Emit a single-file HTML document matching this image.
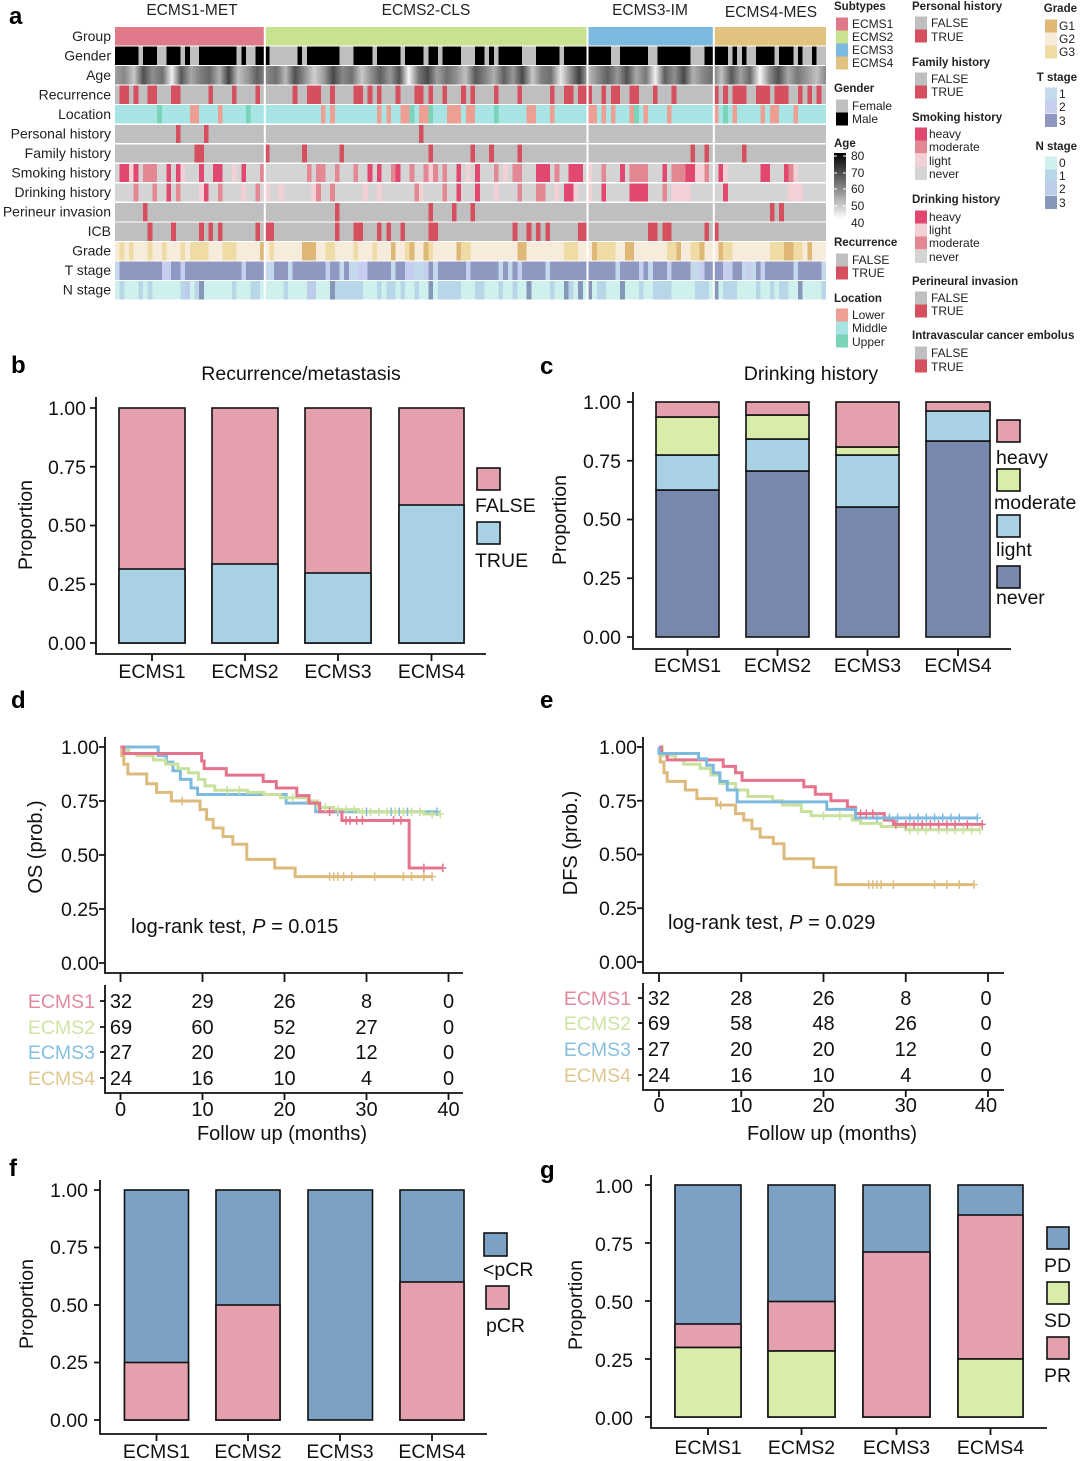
<!DOCTYPE html>
<html>
<head>
<meta charset="utf-8">
<style>
html,body{margin:0;padding:0;background:#fff;}
svg{display:block;font-family:"Liberation Sans",Arial,sans-serif;}
.lt{font-size:14px;fill:#222;}
.lg{font-size:12px;fill:#222;}
.lh{font-size:11.5px;font-weight:bold;fill:#222;}
.ax{font-size:19.5px;fill:#111;}
.pl{font-size:24px;font-weight:bold;fill:#000;}
.bar rect{stroke:#111;stroke-width:1.6;}
</style>
</head>
<body>
<svg width="1080" height="1461" viewBox="0 0 1080 1461" xmlns="http://www.w3.org/2000/svg">
<defs>
<linearGradient id="ageGrad" x1="0" y1="0" x2="1" y2="0">
<stop offset="0%" stop-color="#a0a0a0"/><stop offset="1.3%" stop-color="#888"/><stop offset="2.7%" stop-color="#c8c8c8"/><stop offset="4%" stop-color="#505050"/><stop offset="5.3%" stop-color="#909090"/><stop offset="6.7%" stop-color="#707070"/><stop offset="8%" stop-color="#f0f0f0"/><stop offset="9.3%" stop-color="#585858"/><stop offset="10.7%" stop-color="#a8a8a8"/><stop offset="12%" stop-color="#808080"/><stop offset="13.3%" stop-color="#686868"/><stop offset="14.7%" stop-color="#b0b0b0"/><stop offset="16%" stop-color="#404040"/><stop offset="17.3%" stop-color="#c0c0c0"/><stop offset="18.7%" stop-color="#989898"/><stop offset="20%" stop-color="#606060"/><stop offset="21.3%" stop-color="#888"/><stop offset="22.7%" stop-color="#707070"/><stop offset="24%" stop-color="#b8b8b8"/><stop offset="25.3%" stop-color="#505050"/><stop offset="26.7%" stop-color="#909090"/><stop offset="28%" stop-color="#d0d0d0"/><stop offset="29.3%" stop-color="#a0a0a0"/><stop offset="30.7%" stop-color="#484848"/><stop offset="32%" stop-color="#888"/><stop offset="33.3%" stop-color="#707070"/><stop offset="34.7%" stop-color="#c8c8c8"/><stop offset="36%" stop-color="#909090"/><stop offset="37.3%" stop-color="#606060"/><stop offset="38.7%" stop-color="#989898"/><stop offset="40%" stop-color="#505050"/><stop offset="41.3%" stop-color="#f8f8f8"/><stop offset="42.7%" stop-color="#787878"/><stop offset="44%" stop-color="#484848"/><stop offset="45.3%" stop-color="#a0a0a0"/><stop offset="46.7%" stop-color="#707070"/><stop offset="48%" stop-color="#909090"/><stop offset="49.3%" stop-color="#c0c0c0"/><stop offset="50.7%" stop-color="#585858"/><stop offset="52%" stop-color="#808080"/><stop offset="53.3%" stop-color="#b0b0b0"/><stop offset="54.7%" stop-color="#606060"/><stop offset="56%" stop-color="#989898"/><stop offset="57.3%" stop-color="#484848"/><stop offset="58.7%" stop-color="#c8c8c8"/><stop offset="60%" stop-color="#808080"/><stop offset="61.3%" stop-color="#707070"/><stop offset="62.7%" stop-color="#e8e8e8"/><stop offset="64%" stop-color="#909090"/><stop offset="65.3%" stop-color="#404040"/><stop offset="66.7%" stop-color="#b8b8b8"/><stop offset="68%" stop-color="#888"/><stop offset="69.3%" stop-color="#606060"/><stop offset="70.7%" stop-color="#989898"/><stop offset="72%" stop-color="#505050"/><stop offset="73.3%" stop-color="#a8a8a8"/><stop offset="74.7%" stop-color="#787878"/><stop offset="76%" stop-color="#f0f0f0"/><stop offset="77.3%" stop-color="#606060"/><stop offset="78.7%" stop-color="#909090"/><stop offset="80%" stop-color="#484848"/><stop offset="81.3%" stop-color="#b0b0b0"/><stop offset="82.7%" stop-color="#888"/><stop offset="84%" stop-color="#707070"/><stop offset="85.3%" stop-color="#c0c0c0"/><stop offset="86.7%" stop-color="#585858"/><stop offset="88%" stop-color="#a0a0a0"/><stop offset="89.3%" stop-color="#686868"/><stop offset="90.7%" stop-color="#f8f8f8"/><stop offset="92%" stop-color="#909090"/><stop offset="93.3%" stop-color="#505050"/><stop offset="94.7%" stop-color="#a8a8a8"/><stop offset="96%" stop-color="#787878"/><stop offset="97.3%" stop-color="#989898"/><stop offset="98.7%" stop-color="#c0c0c0"/><stop offset="100%" stop-color="#888"/>
</linearGradient>
<linearGradient id="ageLeg" x1="0" y1="0" x2="0" y2="1">
<stop offset="0%" stop-color="#000"/><stop offset="100%" stop-color="#fff"/>
</linearGradient>
<path id="cp" d="M0,-0.02V0.02M-0.45,0H0.45" vector-effect="non-scaling-stroke" stroke-width="1.5" fill="none"/>
</defs>

<!-- ============ PANEL A: heatmap ============ -->
<text class="pl" x="9" y="24">a</text>
<text x="192" y="15" font-size="15.5" text-anchor="middle" fill="#222">ECMS1-MET</text>
<text x="426" y="15" font-size="15.5" text-anchor="middle" fill="#222">ECMS2-CLS</text>
<text x="650" y="15" font-size="15.5" text-anchor="middle" fill="#222">ECMS3-IM</text>
<text x="771" y="17" font-size="15.5" text-anchor="middle" fill="#222">ECMS4-MES</text>

<g class="lt" text-anchor="end">
<text x="111" y="41">Group</text>
<text x="111" y="60.5">Gender</text>
<text x="111" y="80">Age</text>
<text x="111" y="99.5">Recurrence</text>
<text x="111" y="119">Location</text>
<text x="111" y="138.5">Personal history</text>
<text x="111" y="158">Family history</text>
<text x="111" y="177.5">Smoking history</text>
<text x="111" y="197">Drinking history</text>
<text x="111" y="216.5">Perineur invasion</text>
<text x="111" y="236">ICB</text>
<text x="111" y="255.5">Grade</text>
<text x="111" y="275">T stage</text>
<text x="111" y="294.5">N stage</text>
</g>

<g transform="translate(115,0) scale(4.6776,1)" shape-rendering="crispEdges">
<!-- Group -->
<g transform="translate(0,27)">
<rect x="0" width="32" height="18.3" fill="#E07A8A"/>
<rect x="32" width="69" height="18.3" fill="#C7E38F"/>
<rect x="101" width="27" height="18.3" fill="#7CB9DE"/>
<rect x="128" width="24" height="18.3" fill="#E2C27F"/>
</g>
<!-- Gender -->
<g transform="translate(0,46.55)">
<rect x="0" width="152" height="18.3" fill="#BFBFBF"/>
<g fill="#000">
<rect x="0" width="5" height="18.3"/><rect x="6" width="3" height="18.3"/><rect x="11" width="3" height="18.3"/><rect x="15" width="1" height="18.3"/><rect x="18" width="8" height="18.3"/><rect x="27" width="1" height="18.3"/><rect x="30" width="3" height="18.3"/><rect x="39" width="1" height="18.3"/><rect x="41" width="7" height="18.3"/><rect x="51" width="4" height="18.3"/><rect x="56" width="5" height="18.3"/><rect x="62" width="4" height="18.3"/><rect x="67" width="2" height="18.3"/><rect x="70" width="4" height="18.3"/><rect x="77" width="2" height="18.3"/><rect x="80" width="1" height="18.3"/><rect x="82" width="5" height="18.3"/><rect x="90" width="5" height="18.3"/><rect x="96" width="10" height="18.3"/><rect x="108" width="6" height="18.3"/><rect x="116" width="7" height="18.3"/><rect x="126" width="5" height="18.3"/><rect x="132" width="1" height="18.3"/><rect x="134" width="1" height="18.3"/><rect x="137" width="4" height="18.3"/><rect x="142" width="3" height="18.3"/><rect x="146" width="1" height="18.3"/><rect x="149" width="1" height="18.3"/>
</g></g>
<!-- Age -->
<g transform="translate(0,66.1)">
<rect x="0" width="152" height="18.3" fill="url(#ageGrad)"/>
</g>
<!-- Recurrence -->
<g transform="translate(0,85.65)">
<rect x="0" width="152" height="18.3" fill="#BFBFBF"/>
<g fill="#D64F5E">
<rect x="1" width="2" height="18.3"/><rect x="4" width="1" height="18.3"/><rect x="7" width="2" height="18.3"/><rect x="12" width="2" height="18.3"/><rect x="20" width="1" height="18.3"/><rect x="25" width="1" height="18.3"/><rect x="30" width="1" height="18.3"/><rect x="38" width="1" height="18.3"/><rect x="41" width="3" height="18.3"/><rect x="46" width="1" height="18.3"/><rect x="51" width="2" height="18.3"/><rect x="54" width="1" height="18.3"/><rect x="56" width="1" height="18.3"/><rect x="60" width="1" height="18.3"/><rect x="64" width="2" height="18.3"/><rect x="67" width="1" height="18.3"/><rect x="70" width="1" height="18.3"/><rect x="74" width="1" height="18.3"/><rect x="76" width="1" height="18.3"/><rect x="81" width="1" height="18.3"/><rect x="86" width="1" height="18.3"/><rect x="93" width="1" height="18.3"/><rect x="96" width="2" height="18.3"/><rect x="99" width="3" height="18.3"/><rect x="104" width="1" height="18.3"/><rect x="106" width="2" height="18.3"/><rect x="110" width="2" height="18.3"/><rect x="115" width="1" height="18.3"/><rect x="119" width="1" height="18.3"/><rect x="128" width="1" height="18.3"/><rect x="130" width="1" height="18.3"/><rect x="132" width="3" height="18.3"/><rect x="137" width="3" height="18.3"/><rect x="141" width="3" height="18.3"/><rect x="146" width="1" height="18.3"/><rect x="148" width="1" height="18.3"/><rect x="150" width="1" height="18.3"/>
</g></g>
<!-- Location -->
<g transform="translate(0,105.2)">
<rect x="0" width="152" height="18.3" fill="#A8E4E4"/>
<g fill="#EE9F94">
<rect x="16" width="2" height="18.3"/><rect x="22" width="1" height="18.3"/><rect x="44" width="1" height="18.3"/><rect x="46" width="1" height="18.3"/><rect x="56" width="1" height="18.3"/><rect x="58" width="1" height="18.3"/><rect x="61" width="2" height="18.3"/><rect x="65" width="2" height="18.3"/><rect x="71" width="3" height="18.3"/><rect x="75" width="2" height="18.3"/><rect x="88" width="2" height="18.3"/><rect x="93" width="1" height="18.3"/><rect x="101" width="2" height="18.3"/><rect x="104" width="1" height="18.3"/><rect x="106" width="1" height="18.3"/><rect x="110" width="1" height="18.3"/><rect x="113" width="1" height="18.3"/><rect x="118" width="1" height="18.3"/><rect x="128" width="1" height="18.3"/><rect x="132" width="1" height="18.3"/><rect x="138" width="1" height="18.3"/><rect x="140" width="2" height="18.3"/><rect x="145" width="1" height="18.3"/>
</g>
<g fill="#7AD4B8">
<rect x="9" width="1" height="18.3"/><rect x="28" width="1" height="18.3"/><rect x="63" width="1" height="18.3"/><rect x="67" width="1" height="18.3"/><rect x="81" width="1" height="18.3"/><rect x="111" width="1" height="18.3"/><rect x="130" width="1" height="18.3"/>
</g></g>
<!-- Personal history -->
<g transform="translate(0,124.75)">
<rect x="0" width="152" height="18.3" fill="#BFBFBF"/>
<g fill="#D64F5E"><rect x="13" width="1" height="18.3"/><rect x="19" width="1" height="18.3"/><rect x="65" width="1" height="18.3"/></g>
</g>
<!-- Family history -->
<g transform="translate(0,144.3)">
<rect x="0" width="152" height="18.3" fill="#BFBFBF"/>
<g fill="#D64F5E"><rect x="17" width="2" height="18.3"/><rect x="32" width="1" height="18.3"/><rect x="40" width="1" height="18.3"/><rect x="48" width="1" height="18.3"/><rect x="67" width="1" height="18.3"/><rect x="76" width="1" height="18.3"/><rect x="80" width="1" height="18.3"/><rect x="86" width="1" height="18.3"/><rect x="123" width="1" height="18.3"/><rect x="126" width="1" height="18.3"/><rect x="134" width="1" height="18.3"/></g>
</g>
<!-- Smoking -->
<g transform="translate(0,163.85)">
<rect x="0" width="152" height="18.3" fill="#D4D4D4"/>
<g fill="#E2476F">
<rect x="1" width="2" height="18.3"/><rect x="4" width="1" height="18.3"/><rect x="11" width="1" height="18.3"/><rect x="13" width="1" height="18.3"/><rect x="18" width="1" height="18.3"/><rect x="21" width="2" height="18.3"/><rect x="27" width="1" height="18.3"/><rect x="54" width="1" height="18.3"/><rect x="56" width="1" height="18.3"/><rect x="60" width="1" height="18.3"/><rect x="73" width="1" height="18.3"/><rect x="77" width="1" height="18.3"/><rect x="90" width="3" height="18.3"/><rect x="97" width="3" height="18.3"/><rect x="108" width="1" height="18.3"/><rect x="117" width="1" height="18.3"/><rect x="122" width="2" height="18.3"/><rect x="129" width="1" height="18.3"/><rect x="138" width="2" height="18.3"/><rect x="143" width="1" height="18.3"/>
</g>
<g fill="#E38892">
<rect x="6" width="3" height="18.3"/><rect x="31" width="1" height="18.3"/><rect x="41" width="1" height="18.3"/><rect x="43" width="2" height="18.3"/><rect x="47" width="1" height="18.3"/><rect x="51" width="1" height="18.3"/><rect x="59" width="1" height="18.3"/><rect x="63" width="1" height="18.3"/><rect x="66" width="1" height="18.3"/><rect x="68" width="1" height="18.3"/><rect x="70" width="1" height="18.3"/><rect x="81" width="1" height="18.3"/><rect x="85" width="2" height="18.3"/><rect x="94" width="1" height="18.3"/><rect x="104" width="1" height="18.3"/><rect x="110" width="4" height="18.3"/><rect x="119" width="3" height="18.3"/><rect x="126" width="1" height="18.3"/><rect x="144" width="1" height="18.3"/>
</g>
<g fill="#F3D0D6">
<rect x="3" width="1" height="18.3"/><rect x="14" width="1" height="18.3"/><rect x="25" width="1" height="18.3"/><rect x="67" width="1" height="18.3"/><rect x="75" width="1" height="18.3"/><rect x="83" width="1" height="18.3"/><rect x="101" width="1" height="18.3"/><rect x="124" width="2" height="18.3"/><rect x="130" width="1" height="18.3"/><rect x="145" width="1" height="18.3"/>
</g></g>
<!-- Drinking -->
<g transform="translate(0,183.4)">
<rect x="0" width="152" height="18.3" fill="#D4D4D4"/>
<g fill="#E2476F">
<rect x="11" width="1" height="18.3"/><rect x="19" width="1" height="18.3"/><rect x="73" width="1" height="18.3"/><rect x="77" width="1" height="18.3"/><rect x="96" width="2" height="18.3"/><rect x="104" width="1" height="18.3"/><rect x="110" width="4" height="18.3"/><rect x="130" width="1" height="18.3"/>
</g>
<g fill="#E38892">
<rect x="4" width="1" height="18.3"/><rect x="8" width="1" height="18.3"/><rect x="13" width="1" height="18.3"/><rect x="22" width="1" height="18.3"/><rect x="30" width="1" height="18.3"/><rect x="43" width="1" height="18.3"/><rect x="46" width="1" height="18.3"/><rect x="64" width="1" height="18.3"/><rect x="70" width="1" height="18.3"/><rect x="86" width="1" height="18.3"/><rect x="90" width="2" height="18.3"/><rect x="117" width="1" height="18.3"/>
</g>
<g fill="#F3D0D6">
<rect x="18" width="1" height="18.3"/><rect x="27" width="1" height="18.3"/><rect x="32" width="1" height="18.3"/><rect x="35" width="1" height="18.3"/><rect x="42" width="1" height="18.3"/><rect x="53" width="1" height="18.3"/><rect x="56" width="1" height="18.3"/><rect x="65" width="1" height="18.3"/><rect x="81" width="1" height="18.3"/><rect x="94" width="1" height="18.3"/><rect x="98" width="1" height="18.3"/><rect x="101" width="1" height="18.3"/><rect x="119" width="4" height="18.3"/><rect x="144" width="3" height="18.3"/>
</g></g>
<!-- Perineur invasion -->
<g transform="translate(0,202.95)">
<rect x="0" width="152" height="18.3" fill="#BFBFBF"/>
<g fill="#D64F5E"><rect x="6" width="1" height="18.3"/><rect x="47" width="1" height="18.3"/><rect x="67" width="1" height="18.3"/><rect x="72" width="1" height="18.3"/><rect x="76" width="1" height="18.3"/><rect x="140" width="1" height="18.3"/><rect x="142" width="1" height="18.3"/></g>
</g>
<!-- ICB -->
<g transform="translate(0,222.5)">
<rect x="0" width="152" height="18.3" fill="#BFBFBF"/>
<g fill="#D64F5E"><rect x="7" width="1" height="18.3"/><rect x="12" width="1" height="18.3"/><rect x="18" width="1" height="18.3"/><rect x="20" width="1" height="18.3"/><rect x="22" width="1" height="18.3"/><rect x="30" width="1" height="18.3"/><rect x="32" width="2" height="18.3"/><rect x="47" width="1" height="18.3"/><rect x="51" width="2" height="18.3"/><rect x="56" width="1" height="18.3"/><rect x="58" width="1" height="18.3"/><rect x="61" width="1" height="18.3"/><rect x="67" width="2" height="18.3"/><rect x="85" width="1" height="18.3"/><rect x="88" width="1" height="18.3"/><rect x="90" width="1" height="18.3"/><rect x="92" width="1" height="18.3"/><rect x="99" width="2" height="18.3"/><rect x="114" width="2" height="18.3"/><rect x="117" width="2" height="18.3"/><rect x="126" width="1" height="18.3"/><rect x="128" width="1" height="18.3"/></g>
</g>
<!-- Grade -->
<g transform="translate(0,242.05)">
<rect x="0" width="152" height="18.3" fill="#F7EBDC"/>
<g fill="#EFDCA4">
<rect x="1" width="1" height="18.3"/><rect x="3" width="1" height="18.3"/><rect x="7" width="1" height="18.3"/><rect x="10" width="1" height="18.3"/><rect x="14" width="1" height="18.3"/><rect x="16" width="4" height="18.3"/><rect x="23" width="3" height="18.3"/><rect x="33" width="1" height="18.3"/><rect x="45" width="2" height="18.3"/><rect x="51" width="1" height="18.3"/><rect x="55" width="1" height="18.3"/><rect x="62" width="1" height="18.3"/><rect x="67" width="1" height="18.3"/><rect x="74" width="2" height="18.3"/><rect x="96" width="3" height="18.3"/><rect x="103" width="4" height="18.3"/><rect x="118" width="2" height="18.3"/><rect x="123" width="2" height="18.3"/><rect x="130" width="2" height="18.3"/><rect x="140" width="3" height="18.3"/><rect x="145" width="2" height="18.3"/>
</g>
<g fill="#DEB874">
<rect x="31" width="1" height="18.3"/><rect x="40" width="3" height="18.3"/><rect x="59" width="1" height="18.3"/><rect x="63" width="1" height="18.3"/><rect x="66" width="1" height="18.3"/><rect x="73" width="1" height="18.3"/><rect x="86" width="2" height="18.3"/><rect x="102" width="1" height="18.3"/><rect x="109" width="2" height="18.3"/><rect x="120" width="1" height="18.3"/><rect x="125" width="1" height="18.3"/><rect x="129" width="1" height="18.3"/><rect x="143" width="2" height="18.3"/><rect x="148" width="1" height="18.3"/>
</g></g>
<!-- T stage -->
<g transform="translate(0,261.6)">
<rect x="0" width="152" height="18.3" fill="#8F98C1"/>
<g fill="#C4D9EC">
<rect x="0" width="1" height="18.3"/><rect x="32" width="2" height="18.3"/><rect x="37" width="1" height="18.3"/><rect x="48" width="1" height="18.3"/><rect x="50" width="2" height="18.3"/><rect x="59" width="1" height="18.3"/><rect x="64" width="2" height="18.3"/><rect x="68" width="1" height="18.3"/><rect x="82" width="1" height="18.3"/><rect x="84" width="1" height="18.3"/><rect x="92" width="1" height="18.3"/><rect x="107" width="1" height="18.3"/><rect x="114" width="1" height="18.3"/><rect x="123" width="2" height="18.3"/><rect x="134" width="1" height="18.3"/><rect x="136" width="1" height="18.3"/><rect x="145" width="1" height="18.3"/><rect x="151" width="1" height="18.3"/>
</g>
<g fill="#C6CFEF">
<rect x="10" width="2" height="18.3"/><rect x="14" width="1" height="18.3"/><rect x="27" width="1" height="18.3"/><rect x="45" width="1" height="18.3"/><rect x="52" width="2" height="18.3"/><rect x="62" width="2" height="18.3"/><rect x="66" width="1" height="18.3"/><rect x="75" width="1" height="18.3"/><rect x="86" width="1" height="18.3"/><rect x="112" width="1" height="18.3"/><rect x="118" width="1" height="18.3"/><rect x="125" width="1" height="18.3"/><rect x="130" width="2" height="18.3"/><rect x="135" width="1" height="18.3"/><rect x="138" width="1" height="18.3"/>
</g></g>
<!-- N stage -->
<g transform="translate(0,281.15)">
<rect x="0" width="152" height="18.3" fill="#CFF1EE"/>
<g fill="#B8D6E7">
<rect x="1" width="1" height="18.3"/><rect x="5" width="1" height="18.3"/><rect x="7" width="1" height="18.3"/><rect x="14" width="1" height="18.3"/><rect x="17" width="1" height="18.3"/><rect x="25" width="1" height="18.3"/><rect x="29" width="2" height="18.3"/><rect x="36" width="1" height="18.3"/><rect x="47" width="6" height="18.3"/><rect x="56" width="1" height="18.3"/><rect x="58" width="2" height="18.3"/><rect x="61" width="1" height="18.3"/><rect x="64" width="1" height="18.3"/><rect x="69" width="5" height="18.3"/><rect x="77" width="2" height="18.3"/><rect x="82" width="1" height="18.3"/><rect x="85" width="1" height="18.3"/><rect x="93" width="1" height="18.3"/><rect x="97" width="1" height="18.3"/><rect x="103" width="2" height="18.3"/><rect x="112" width="1" height="18.3"/><rect x="115" width="4" height="18.3"/><rect x="124" width="3" height="18.3"/><rect x="130" width="3" height="18.3"/><rect x="137" width="1" height="18.3"/><rect x="140" width="1" height="18.3"/><rect x="142" width="2" height="18.3"/><rect x="151" width="1" height="18.3"/>
</g>
<g fill="#BECCEB"><rect x="15" width="1" height="18.3"/><rect x="41" width="2" height="18.3"/></g>
<g fill="#8797BA">
<rect x="18" width="1" height="18.3"/><rect x="46" width="1" height="18.3"/><rect x="67" width="1" height="18.3"/><rect x="88" width="1" height="18.3"/><rect x="96" width="1" height="18.3"/><rect x="99" width="1" height="18.3"/><rect x="101" width="1" height="18.3"/><rect x="108" width="1" height="18.3"/><rect x="128" width="1" height="18.3"/><rect x="146" width="1" height="18.3"/>
</g></g>
</g>
<!-- group separators -->
<g fill="#fff">
<rect x="263.8" y="26" width="2" height="276"/>
<rect x="586.5" y="26" width="2" height="276"/>
<rect x="712.8" y="26" width="2" height="276"/>
</g>

<!-- Legend col 1 -->
<g class="lh">
<text x="834" y="10">Subtypes</text>
<text x="834" y="92">Gender</text>
<text x="834" y="147">Age</text>
<text x="834" y="246">Recurrence</text>
<text x="834" y="302">Location</text>
</g>
<g>
<rect x="836" y="17.5" width="12" height="13" fill="#E07A8A"/>
<rect x="836" y="30.5" width="12" height="13" fill="#C7E38F"/>
<rect x="836" y="43.5" width="12" height="13" fill="#7CB9DE"/>
<rect x="836" y="56.5" width="12" height="13" fill="#E2C27F"/>
<rect x="836" y="99.5" width="12" height="13" fill="#BFBFBF"/>
<rect x="836" y="112.5" width="12" height="13" fill="#000"/>
<rect x="834" y="153" width="12" height="66" fill="url(#ageLeg)"/>
<g stroke="#fff" stroke-width="1"><path d="M834,156H837M843,156H846M834,173H837M843,173H846M834,189H837M843,189H846M834,206H837M843,206H846"/></g>
<rect x="836" y="253.5" width="12" height="13" fill="#BFBFBF"/>
<rect x="836" y="266.5" width="12" height="13" fill="#D64F5E"/>
<rect x="836" y="308.5" width="12" height="13" fill="#EE9F94"/>
<rect x="836" y="321.5" width="12" height="13" fill="#A8E4E4"/>
<rect x="836" y="334.5" width="12" height="13" fill="#7AD4B8"/>
</g>
<g class="lg">
<text x="852" y="28">ECMS1</text>
<text x="852" y="41">ECMS2</text>
<text x="852" y="54">ECMS3</text>
<text x="852" y="67">ECMS4</text>
<text x="852" y="110">Female</text>
<text x="852" y="123">Male</text>
<text x="851" y="160">80</text>
<text x="851" y="177">70</text>
<text x="851" y="193">60</text>
<text x="851" y="210">50</text>
<text x="851" y="227">40</text>
<text x="852" y="264">FALSE</text>
<text x="852" y="277">TRUE</text>
<text x="852" y="319">Lower</text>
<text x="852" y="332">Middle</text>
<text x="852" y="346">Upper</text>
</g>

<!-- Legend col 2 -->
<g class="lh">
<text x="912" y="10">Personal history</text>
<text x="912" y="66">Family history</text>
<text x="912" y="121">Smoking history</text>
<text x="912" y="203">Drinking history</text>
<text x="912" y="285">Perineural invasion</text>
<text x="912" y="339">Intravascular cancer embolus</text>
</g>
<g>
<rect x="915" y="16.5" width="12" height="13" fill="#BFBFBF"/>
<rect x="915" y="29.5" width="12" height="13" fill="#D64F5E"/>
<rect x="915" y="72.5" width="12" height="13" fill="#BFBFBF"/>
<rect x="915" y="85.5" width="12" height="13" fill="#D64F5E"/>
<rect x="915" y="127.5" width="12" height="13" fill="#E2476F"/>
<rect x="915" y="140.5" width="12" height="13" fill="#E38892"/>
<rect x="915" y="154" width="12" height="13" fill="#F3D0D6"/>
<rect x="915" y="167" width="12" height="13" fill="#D4D4D4"/>
<rect x="915" y="210.5" width="12" height="13" fill="#E2476F"/>
<rect x="915" y="223.5" width="12" height="13" fill="#F3D0D6"/>
<rect x="915" y="236.5" width="12" height="13" fill="#E38892"/>
<rect x="915" y="250" width="12" height="13" fill="#D4D4D4"/>
<rect x="915" y="291.5" width="12" height="13" fill="#BFBFBF"/>
<rect x="915" y="304.5" width="12" height="13" fill="#D64F5E"/>
<rect x="915" y="346.5" width="12" height="13" fill="#BFBFBF"/>
<rect x="915" y="359.5" width="12" height="13" fill="#D64F5E"/>
</g>
<g class="lg">
<text x="931" y="27">FALSE</text>
<text x="931" y="41">TRUE</text>
<text x="931" y="83">FALSE</text>
<text x="931" y="96">TRUE</text>
<text x="929" y="138">heavy</text>
<text x="929" y="151">moderate</text>
<text x="929" y="165">light</text>
<text x="929" y="178">never</text>
<text x="929" y="221">heavy</text>
<text x="929" y="234">light</text>
<text x="929" y="247">moderate</text>
<text x="929" y="261">never</text>
<text x="931" y="302">FALSE</text>
<text x="931" y="315">TRUE</text>
<text x="931" y="357">FALSE</text>
<text x="931" y="371">TRUE</text>
</g>

<!-- Legend col 3 -->
<g class="lh" text-anchor="end">
<text x="1077" y="12">Grade</text>
<text x="1077" y="81">T stage</text>
<text x="1077" y="150">N stage</text>
</g>
<g>
<rect x="1045" y="19.5" width="12" height="13" fill="#DEB874"/>
<rect x="1045" y="32.5" width="12" height="13" fill="#F7EBDC"/>
<rect x="1045" y="45.5" width="12" height="13" fill="#EFDCA4"/>
<rect x="1045" y="87.5" width="12" height="13" fill="#C4D9EC"/>
<rect x="1045" y="100.5" width="12" height="13" fill="#C6CFEF"/>
<rect x="1045" y="114" width="12" height="13" fill="#8F98C1"/>
<rect x="1045" y="156.5" width="12" height="13" fill="#CFF1EE"/>
<rect x="1045" y="169.5" width="12" height="13" fill="#B8D6E7"/>
<rect x="1045" y="182.5" width="12" height="13" fill="#BECCEB"/>
<rect x="1045" y="196" width="12" height="13" fill="#8797BA"/>
</g>
<g class="lg">
<text x="1059" y="30">G1</text>
<text x="1059" y="43">G2</text>
<text x="1059" y="56">G3</text>
<text x="1059" y="98">1</text>
<text x="1059" y="111">2</text>
<text x="1059" y="125">3</text>
<text x="1059" y="167">0</text>
<text x="1059" y="180">1</text>
<text x="1059" y="193">2</text>
<text x="1059" y="207">3</text>
</g>

<!-- ============ PANEL B ============ -->
<text class="pl" x="11" y="373">b</text>
<text x="301" y="380" font-size="19.5" text-anchor="middle" fill="#111">Recurrence/metastasis</text>
<text class="ax" transform="translate(32,525) rotate(-90)" text-anchor="middle">Proportion</text>
<g class="bar">
<rect x="119" y="408" width="66" height="235" fill="#E5A0AD"/>
<rect x="119" y="569" width="66" height="74" fill="#A9D1E6"/>
<rect x="212" y="408" width="66" height="235" fill="#E5A0AD"/>
<rect x="212" y="564" width="66" height="79" fill="#A9D1E6"/>
<rect x="305" y="408" width="66" height="235" fill="#E5A0AD"/>
<rect x="305" y="573" width="66" height="70" fill="#A9D1E6"/>
<rect x="399" y="408" width="65" height="235" fill="#E5A0AD"/>
<rect x="399" y="505" width="65" height="138" fill="#A9D1E6"/>
<rect x="477" y="468" width="23" height="22" fill="#E5A0AD"/>
<rect x="477" y="522" width="23" height="22" fill="#A9D1E6"/>
</g>
<g stroke="#111" stroke-width="1.8" fill="none">
<path d="M96,397V654H486"/>
<path d="M90,408H96M90,466.75H96M90,525.5H96M90,584.25H96M90,643H96"/>
<path d="M152,654V661M245,654V661M338,654V661M431.5,654V661"/>
</g>
<g class="ax" text-anchor="end">
<text x="86" y="415">1.00</text>
<text x="86" y="474">0.75</text>
<text x="86" y="532">0.50</text>
<text x="86" y="591">0.25</text>
<text x="86" y="650">0.00</text>
</g>
<g class="ax" text-anchor="middle">
<text x="152" y="678">ECMS1</text>
<text x="245" y="678">ECMS2</text>
<text x="338" y="678">ECMS3</text>
<text x="431.5" y="678">ECMS4</text>
</g>
<g class="ax">
<text x="475" y="512">FALSE</text>
<text x="475" y="567">TRUE</text>
</g>

<!-- ============ PANEL C ============ -->
<text class="pl" x="540" y="374">c</text>
<text x="811" y="380" font-size="19.5" text-anchor="middle" fill="#111">Drinking history</text>
<text class="ax" transform="translate(566,520) rotate(-90)" text-anchor="middle">Proportion</text>
<g class="bar">
<!-- ECMS1 -->
<rect x="656" y="490" width="63" height="147" fill="#7788AC"/>
<rect x="656" y="455" width="63" height="35" fill="#A9D1E6"/>
<rect x="656" y="417" width="63" height="38" fill="#D9EDAB"/>
<rect x="656" y="402" width="63" height="15" fill="#E5A0AD"/>
<!-- ECMS2 -->
<rect x="746" y="471" width="63" height="166" fill="#7788AC"/>
<rect x="746" y="439" width="63" height="32" fill="#A9D1E6"/>
<rect x="746" y="415" width="63" height="24" fill="#D9EDAB"/>
<rect x="746" y="402" width="63" height="13" fill="#E5A0AD"/>
<!-- ECMS3 -->
<rect x="836" y="507" width="63" height="130" fill="#7788AC"/>
<rect x="836" y="455" width="63" height="52" fill="#A9D1E6"/>
<rect x="836" y="447" width="63" height="8" fill="#D9EDAB"/>
<rect x="836" y="402" width="63" height="45" fill="#E5A0AD"/>
<!-- ECMS4 -->
<rect x="926" y="441" width="64" height="196" fill="#7788AC"/>
<rect x="926" y="411" width="64" height="30" fill="#A9D1E6"/>
<rect x="926" y="402" width="64" height="9" fill="#E5A0AD"/>
<!-- legend -->
<rect x="997" y="420" width="23" height="22" fill="#E5A0AD"/>
<rect x="997" y="469" width="23" height="22" fill="#D9EDAB"/>
<rect x="997" y="515" width="23" height="22" fill="#A9D1E6"/>
<rect x="997" y="566" width="23" height="22" fill="#7788AC"/>
</g>
<g stroke="#111" stroke-width="1.8" fill="none">
<path d="M633,392V649H1011"/>
<path d="M627,402H633M627,460.75H633M627,519.5H633M627,578.25H633M627,637H633"/>
<path d="M687.5,649V656M777.5,649V656M867.5,649V656M958,649V656"/>
</g>
<g class="ax" text-anchor="end">
<text x="621" y="409">1.00</text>
<text x="621" y="468">0.75</text>
<text x="621" y="526">0.50</text>
<text x="621" y="585">0.25</text>
<text x="621" y="644">0.00</text>
</g>
<g class="ax" text-anchor="middle">
<text x="687.5" y="672">ECMS1</text>
<text x="777.5" y="672">ECMS2</text>
<text x="867.5" y="672">ECMS3</text>
<text x="958" y="672">ECMS4</text>
</g>
<g class="ax">
<text x="996" y="464">heavy</text>
<text x="994" y="509">moderate</text>
<text x="996" y="556">light</text>
<text x="996" y="604">never</text>
</g>

<!-- ============ PANEL D ============ -->
<text class="pl" x="11" y="708">d</text>
<text transform="translate(42,847) rotate(-90)" font-size="20" text-anchor="middle" fill="#111">OS (prob.)</text>
<g transform="translate(120.5,963) scale(8.2,-216)" fill="none" stroke-width="3" stroke-linejoin="miter">
<path vector-effect="non-scaling-stroke" stroke="#DDBB7C" d="M0,1 H0.15 V0.96 H0.4 V0.92 H0.9 V0.875 H3.2 V0.83 H4.4 V0.79 H6.2 V0.75 H9.7 V0.71 H10.5 V0.665 H11.3 V0.625 H12.5 V0.585 H13.7 V0.55 H15.4 V0.48 H18.8 V0.44 H21.3 V0.40 H38"/>
<path vector-effect="non-scaling-stroke" stroke="#7EBADF" d="M0,1 H4.6 V0.96 H5.6 V0.93 H6.4 V0.89 H7.3 V0.85 H8.6 V0.81 H9.4 V0.78 H20.2 V0.74 H23.8 V0.70 H38.6"/>
<path vector-effect="non-scaling-stroke" stroke="#C8E29E" d="M0,1 H0.3 V0.985 H1 V0.97 H2 V0.96 H4 V0.94 H5.5 V0.92 H7 V0.90 H8.3 V0.88 H9.5 V0.85 H10.3 V0.82 H11.5 V0.80 H15.5 V0.79 H17.5 V0.78 H19.5 V0.765 H22.8 V0.75 H24 V0.72 H26 V0.71 H29 V0.70 H37 V0.69 H39"/>
<path vector-effect="non-scaling-stroke" stroke="#E5738C" d="M0,1 H0.4 V0.97 H9.9 V0.935 H10.2 V0.90 H12.9 V0.87 H17.4 V0.84 H19 V0.81 H21.5 V0.775 H23 V0.74 H24.3 V0.70 H27 V0.66 H35.2 V0.44 H39.3"/>
<g stroke="#DDBB7C"><use href="#cp" x="7.5" y="0.75"/><use href="#cp" x="25.5" y="0.40"/><use href="#cp" x="26" y="0.40"/><use href="#cp" x="26.5" y="0.40"/><use href="#cp" x="27.2" y="0.40"/><use href="#cp" x="28.2" y="0.40"/><use href="#cp" x="31" y="0.40"/><use href="#cp" x="34.5" y="0.40"/><use href="#cp" x="35.5" y="0.40"/><use href="#cp" x="37" y="0.40"/><use href="#cp" x="38" y="0.40"/></g>
<g stroke="#7EBADF"><use href="#cp" x="26.5" y="0.70"/><use href="#cp" x="30" y="0.70"/><use href="#cp" x="31.5" y="0.70"/><use href="#cp" x="33" y="0.70"/><use href="#cp" x="34" y="0.70"/><use href="#cp" x="35" y="0.70"/><use href="#cp" x="36.5" y="0.70"/><use href="#cp" x="38.6" y="0.70"/></g>
<g stroke="#C8E29E"><use href="#cp" x="13" y="0.80"/><use href="#cp" x="14.5" y="0.80"/><use href="#cp" x="21" y="0.765"/><use href="#cp" x="25" y="0.72"/><use href="#cp" x="26.5" y="0.71"/><use href="#cp" x="27.5" y="0.71"/><use href="#cp" x="28.5" y="0.71"/><use href="#cp" x="29.5" y="0.70"/><use href="#cp" x="30.5" y="0.70"/><use href="#cp" x="31.5" y="0.70"/><use href="#cp" x="32.5" y="0.70"/><use href="#cp" x="33.5" y="0.70"/><use href="#cp" x="34.5" y="0.70"/><use href="#cp" x="35.5" y="0.70"/><use href="#cp" x="36.5" y="0.70"/><use href="#cp" x="38" y="0.69"/><use href="#cp" x="39" y="0.69"/></g>
<g stroke="#E5738C"><use href="#cp" x="25.5" y="0.70"/><use href="#cp" x="27.5" y="0.66"/><use href="#cp" x="28" y="0.66"/><use href="#cp" x="28.8" y="0.66"/><use href="#cp" x="29.5" y="0.66"/><use href="#cp" x="33.3" y="0.66"/><use href="#cp" x="34.2" y="0.66"/><use href="#cp" x="37" y="0.44"/><use href="#cp" x="39.3" y="0.44"/></g>
</g>
<g stroke="#111" stroke-width="1.8" fill="none">
<path d="M105,737V973H463"/>
<path d="M99,747H105M99,801H105M99,855H105M99,909H105M99,963H105"/>
<path d="M120.5,973V982M202.5,973V982M284.5,973V982M366.5,973V982M448.5,973V982"/>
<path d="M105,985V1093H463"/>
<path d="M100,1001H105M100,1027H105M100,1052H105M100,1078H105"/>
<path d="M120.5,1093V1100M202.5,1093V1100M284.5,1093V1100M366.5,1093V1100M448.5,1093V1100"/>
</g>
<g class="ax" text-anchor="end">
<text x="99" y="754">1.00</text>
<text x="99" y="808">0.75</text>
<text x="99" y="862">0.50</text>
<text x="99" y="916">0.25</text>
<text x="99" y="970">0.00</text>
</g>
<text x="131" y="933" font-size="20" fill="#111">log-rank test, <tspan font-style="italic">P</tspan> = 0.015</text>
<g class="ax" text-anchor="end">
<text x="95" y="1008" fill="#E2899E">ECMS1</text>
<text x="95" y="1034" fill="#CFE3A3">ECMS2</text>
<text x="95" y="1059" fill="#86BFE0">ECMS3</text>
<text x="95" y="1085" fill="#DFC78F">ECMS4</text>
</g>
<g font-size="20" fill="#111" text-anchor="middle">
<text x="121" y="1008">32</text><text x="202.5" y="1008">29</text><text x="284.5" y="1008">26</text><text x="366.5" y="1008">8</text><text x="448.5" y="1008">0</text>
<text x="121" y="1034">69</text><text x="202.5" y="1034">60</text><text x="284.5" y="1034">52</text><text x="366.5" y="1034">27</text><text x="448.5" y="1034">0</text>
<text x="121" y="1059">27</text><text x="202.5" y="1059">20</text><text x="284.5" y="1059">20</text><text x="366.5" y="1059">12</text><text x="448.5" y="1059">0</text>
<text x="121" y="1085">24</text><text x="202.5" y="1085">16</text><text x="284.5" y="1085">10</text><text x="366.5" y="1085">4</text><text x="448.5" y="1085">0</text>
<text x="120.5" y="1116">0</text><text x="202.5" y="1116">10</text><text x="284.5" y="1116">20</text><text x="366.5" y="1116">30</text><text x="448.5" y="1116">40</text>
<text x="282" y="1140">Follow up (months)</text>
</g>

<!-- ============ PANEL E ============ -->
<text class="pl" x="540" y="708">e</text>
<text transform="translate(577,843) rotate(-90)" font-size="20" text-anchor="middle" fill="#111">DFS (prob.)</text>
<g transform="translate(659,962) scale(8.225,-215)" fill="none" stroke-width="3">
<path vector-effect="non-scaling-stroke" stroke="#DDBB7C" d="M0,1 H0.15 V0.93 H0.6 V0.88 H1 V0.84 H3.2 V0.80 H4.6 V0.76 H7 V0.73 H9.3 V0.69 H10.3 V0.66 H11.3 V0.62 H12.3 V0.58 H13.9 V0.55 H15.2 V0.48 H18.8 V0.44 H21.5 V0.36 H38.3"/>
<path vector-effect="non-scaling-stroke" stroke="#C8E29E" d="M0,1 H0.4 V0.96 H2 V0.94 H3 V0.92 H5 V0.90 H6.3 V0.87 H7.4 V0.83 H9.3 V0.80 H10.8 V0.77 H13.8 V0.75 H15 V0.73 H17.3 V0.70 H18.5 V0.68 H23.5 V0.66 H24.5 V0.645 H27 V0.63 H30 V0.615 H39"/>
<path vector-effect="non-scaling-stroke" stroke="#E5738C" d="M0,1 H0.3 V0.97 H1 V0.94 H7.8 V0.91 H9.3 V0.88 H10.1 V0.845 H17.6 V0.815 H19 V0.78 H20.9 V0.75 H22.9 V0.72 H23.9 V0.69 H27.4 V0.66 H28.5 V0.64 H39.3"/>
<path vector-effect="non-scaling-stroke" stroke="#7EBADF" d="M0,1 V0.97 H4.8 V0.945 H5.8 V0.915 H6.6 V0.88 H7.4 V0.84 H8.3 V0.80 H9.5 V0.745 H20.4 V0.71 H23.9 V0.67 H38.7"/>
<g stroke="#DDBB7C"><use href="#cp" x="7.5" y="0.73"/><use href="#cp" x="25.5" y="0.36"/><use href="#cp" x="26" y="0.36"/><use href="#cp" x="26.5" y="0.36"/><use href="#cp" x="27" y="0.36"/><use href="#cp" x="28.5" y="0.36"/><use href="#cp" x="33.5" y="0.36"/><use href="#cp" x="35" y="0.36"/><use href="#cp" x="36.5" y="0.36"/><use href="#cp" x="38.3" y="0.36"/></g>
<g stroke="#C8E29E"><use href="#cp" x="20" y="0.68"/><use href="#cp" x="22" y="0.68"/><use href="#cp" x="30.5" y="0.615"/><use href="#cp" x="31.5" y="0.615"/><use href="#cp" x="32.5" y="0.615"/><use href="#cp" x="34" y="0.615"/><use href="#cp" x="35" y="0.615"/><use href="#cp" x="36" y="0.615"/><use href="#cp" x="37" y="0.615"/><use href="#cp" x="38" y="0.615"/><use href="#cp" x="39" y="0.615"/></g>
<g stroke="#E5738C"><use href="#cp" x="24.5" y="0.69"/><use href="#cp" x="25.2" y="0.69"/><use href="#cp" x="26" y="0.69"/><use href="#cp" x="28.8" y="0.64"/><use href="#cp" x="30" y="0.64"/><use href="#cp" x="31" y="0.64"/><use href="#cp" x="32" y="0.64"/><use href="#cp" x="33" y="0.64"/><use href="#cp" x="34" y="0.64"/><use href="#cp" x="35" y="0.64"/><use href="#cp" x="36" y="0.64"/><use href="#cp" x="37.5" y="0.64"/><use href="#cp" x="39.3" y="0.64"/></g>
<g stroke="#7EBADF"><use href="#cp" x="26.5" y="0.67"/><use href="#cp" x="28" y="0.67"/><use href="#cp" x="29" y="0.67"/><use href="#cp" x="30.5" y="0.67"/><use href="#cp" x="31.5" y="0.67"/><use href="#cp" x="32.5" y="0.67"/><use href="#cp" x="33.5" y="0.67"/><use href="#cp" x="34.5" y="0.67"/><use href="#cp" x="35.5" y="0.67"/><use href="#cp" x="36.5" y="0.67"/><use href="#cp" x="38.7" y="0.67"/></g>
</g>
<g stroke="#111" stroke-width="1.8" fill="none">
<path d="M643,737V973H1004"/>
<path d="M637,747H643M637,800.75H643M637,854.5H643M637,908.25H643M637,962H643"/>
<path d="M659,973V982M741.25,973V982M823.5,973V982M905.75,973V982M988,973V982"/>
<path d="M643,983V1090H1004"/>
<path d="M638,998H643M638,1023H643M638,1049H643M638,1075H643"/>
<path d="M659,1090V1097M741.25,1090V1097M823.5,1090V1097M905.75,1090V1097M988,1090V1097"/>
</g>
<g class="ax" text-anchor="end">
<text x="637" y="754">1.00</text>
<text x="637" y="808">0.75</text>
<text x="637" y="861">0.50</text>
<text x="637" y="915">0.25</text>
<text x="637" y="969">0.00</text>
</g>
<text x="668" y="929" font-size="20" fill="#111">log-rank test, <tspan font-style="italic">P</tspan> = 0.029</text>
<g class="ax" text-anchor="end">
<text x="631" y="1005" fill="#E2899E">ECMS1</text>
<text x="631" y="1030" fill="#CFE3A3">ECMS2</text>
<text x="631" y="1056" fill="#86BFE0">ECMS3</text>
<text x="631" y="1082" fill="#DFC78F">ECMS4</text>
</g>
<g font-size="20" fill="#111" text-anchor="middle">
<text x="659" y="1005">32</text><text x="741.25" y="1005">28</text><text x="823.5" y="1005">26</text><text x="905.75" y="1005">8</text><text x="986" y="1005">0</text>
<text x="659" y="1030">69</text><text x="741.25" y="1030">58</text><text x="823.5" y="1030">48</text><text x="905.75" y="1030">26</text><text x="986" y="1030">0</text>
<text x="659" y="1056">27</text><text x="741.25" y="1056">20</text><text x="823.5" y="1056">20</text><text x="905.75" y="1056">12</text><text x="986" y="1056">0</text>
<text x="659" y="1082">24</text><text x="741.25" y="1082">16</text><text x="823.5" y="1082">10</text><text x="905.75" y="1082">4</text><text x="986" y="1082">0</text>
<text x="659" y="1112">0</text><text x="741.25" y="1112">10</text><text x="823.5" y="1112">20</text><text x="905.75" y="1112">30</text><text x="986" y="1112">40</text>
<text x="832" y="1140">Follow up (months)</text>
</g>

<!-- ============ PANEL F ============ -->
<text class="pl" x="9" y="1176">f</text>
<text class="ax" transform="translate(33,1304) rotate(-90)" text-anchor="middle">Proportion</text>
<g class="bar">
<rect x="124.5" y="1190" width="64" height="230" fill="#7BA2C4"/>
<rect x="124.5" y="1362.5" width="64" height="57.5" fill="#E5A0AD"/>
<rect x="216" y="1190" width="64" height="230" fill="#7BA2C4"/>
<rect x="216" y="1305" width="64" height="115" fill="#E5A0AD"/>
<rect x="308" y="1190" width="64.5" height="230" fill="#7BA2C4"/>
<rect x="400" y="1190" width="64" height="230" fill="#7BA2C4"/>
<rect x="400" y="1282" width="64" height="138" fill="#E5A0AD"/>
<rect x="484" y="1233" width="23" height="23" fill="#7BA2C4"/>
<rect x="486" y="1286" width="23" height="23" fill="#E5A0AD"/>
</g>
<g stroke="#111" stroke-width="1.8" fill="none">
<path d="M100,1180V1434H487"/>
<path d="M94,1190H100M94,1247.5H100M94,1305H100M94,1362.5H100M94,1420H100"/>
<path d="M156.5,1434V1441M248,1434V1441M340,1434V1441M432,1434V1441"/>
</g>
<g class="ax" text-anchor="end">
<text x="88" y="1197">1.00</text>
<text x="88" y="1254">0.75</text>
<text x="88" y="1312">0.50</text>
<text x="88" y="1369">0.25</text>
<text x="88" y="1427">0.00</text>
</g>
<g class="ax" text-anchor="middle">
<text x="156.5" y="1458">ECMS1</text>
<text x="248" y="1458">ECMS2</text>
<text x="340" y="1458">ECMS3</text>
<text x="432" y="1458">ECMS4</text>
</g>
<g class="ax">
<text x="483" y="1276">&lt;pCR</text>
<text x="486" y="1332">pCR</text>
</g>

<!-- ============ PANEL G ============ -->
<text class="pl" x="540" y="1178">g</text>
<text class="ax" transform="translate(582,1305) rotate(-90)" text-anchor="middle">Proportion</text>
<g class="bar">
<rect x="675" y="1185" width="66" height="232" fill="#7BA2C4"/>
<rect x="675" y="1324" width="66" height="23.5" fill="#E5A0AD"/>
<rect x="675" y="1347.5" width="66" height="69.5" fill="#D9EDAB"/>
<rect x="768" y="1185" width="67" height="232" fill="#7BA2C4"/>
<rect x="768" y="1301.5" width="67" height="49.5" fill="#E5A0AD"/>
<rect x="768" y="1351" width="67" height="66" fill="#D9EDAB"/>
<rect x="863" y="1185" width="67" height="232" fill="#7BA2C4"/>
<rect x="863" y="1252" width="67" height="165" fill="#E5A0AD"/>
<rect x="958" y="1185" width="65" height="232" fill="#7BA2C4"/>
<rect x="958" y="1215" width="65" height="144" fill="#E5A0AD"/>
<rect x="958" y="1359" width="65" height="58" fill="#D9EDAB"/>
<rect x="1047" y="1227" width="22" height="22" fill="#7BA2C4"/>
<rect x="1047" y="1282" width="22" height="22" fill="#D9EDAB"/>
<rect x="1047" y="1337" width="22" height="22" fill="#E5A0AD"/>
</g>
<g stroke="#111" stroke-width="1.8" fill="none">
<path d="M651,1175V1428H1047"/>
<path d="M645,1185H651M645,1243H651M645,1301H651M645,1359H651M645,1417H651"/>
<path d="M708,1428V1435M801.5,1428V1435M896.5,1428V1435M990.5,1428V1435"/>
</g>
<g class="ax" text-anchor="end">
<text x="633" y="1193">1.00</text>
<text x="633" y="1251">0.75</text>
<text x="633" y="1309">0.50</text>
<text x="633" y="1367">0.25</text>
<text x="633" y="1425">0.00</text>
</g>
<g class="ax" text-anchor="middle">
<text x="708" y="1454">ECMS1</text>
<text x="801.5" y="1454">ECMS2</text>
<text x="896.5" y="1454">ECMS3</text>
<text x="990.5" y="1454">ECMS4</text>
</g>
<g class="ax">
<text x="1044" y="1272">PD</text>
<text x="1044" y="1327">SD</text>
<text x="1044" y="1382">PR</text>
</g>
</svg>
</body>
</html>
